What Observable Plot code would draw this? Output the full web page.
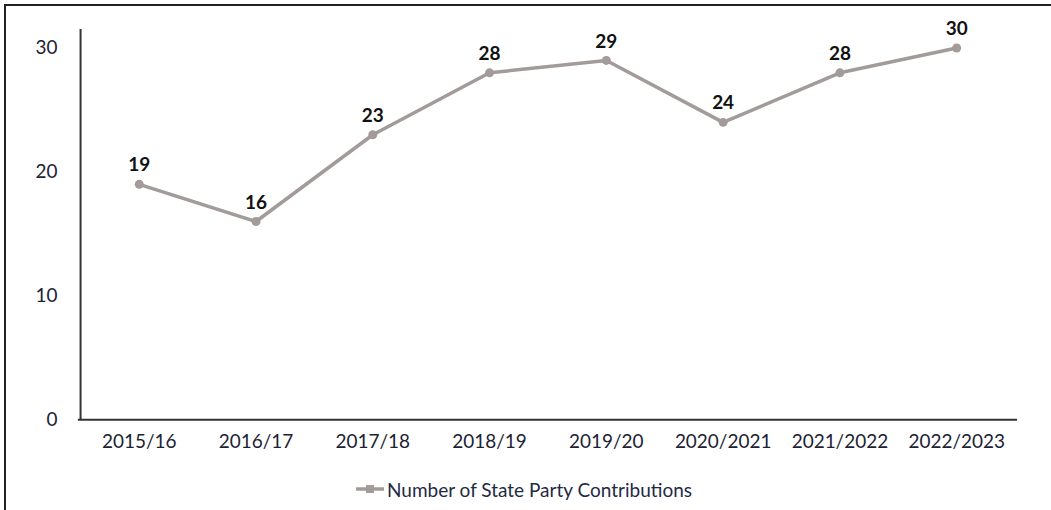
<!DOCTYPE html>
<html>
<head>
<meta charset="utf-8">
<script src="https://cdn.jsdelivr.net/npm/d3@7"></script>
<script src="https://cdn.jsdelivr.net/npm/@observablehq/plot@0.6"></script>
<style>
  html, body { margin: 0; padding: 0; background: #fff; }
  #wrap { position: relative; box-sizing: border-box; border-left: 2px solid #222; border-top: 2px solid #222; margin-left: 4px; margin-top: 4px; width: 1047px; height: 506px; overflow: hidden; }
  #legend { font-family: Lato, sans-serif; font-size: 19px; color: #1f2a44; display: flex; align-items: center; justify-content: center; height: 44px; margin-top: 6px; padding-right: 10px; }
  #legend svg { margin-right: 2px; }
</style>
</head>
<body>
<div id="wrap"></div>
<script>
const years = ["2015/16", "2016/17", "2017/18", "2018/19", "2019/20", "2020/2021", "2021/2022", "2022/2023"];
const contributions = [19, 16, 23, 28, 29, 24, 28, 30];
const yTicks = [0, 10, 20, 30];
const seriesName = "Number of State Party Contributions";

const data = years.map((y, i) => ({year: y, value: contributions[i]}));
const lineColor = "#a39a9a";

const chart = Plot.plot({
  width: 1047,
  height: 456,
  marginLeft: 72,
  marginRight: 34,
  marginTop: 23,
  marginBottom: 42,
  style: {fontFamily: "Lato, sans-serif", fontSize: "19px", color: "#1c2233", background: "#fff"},
  x: {type: "point", domain: years, padding: 0.5, label: null, tickSize: 0, tickPadding: 15},
  y: {domain: [0, 31.5], ticks: yTicks, label: null, tickSize: 0, tickPadding: 21},
  marks: [
    Plot.line(data, {x: "year", y: "value", stroke: lineColor, strokeWidth: 3.5}),
    Plot.dot(data, {x: "year", y: "value", fill: lineColor, r: 4.5, symbol: "circle"}),
    Plot.text(data, {x: "year", y: "value", text: d => String(d.value), dy: -19, fontWeight: "bold", fontSize: 19, fill: "#111"}),
    Plot.ruleY([0], {stroke: "#333", strokeWidth: 2}),
    Plot.ruleX([years[0]], {dx: -58.8, stroke: "#333", strokeWidth: 2, y1: 0, y2: 31.5})
  ]
});

const wrap = document.getElementById("wrap");
wrap.appendChild(chart);
const legend = document.createElement("div");
legend.id = "legend";
legend.innerHTML = `<svg width="30" height="12"><line x1="1" y1="6" x2="29" y2="6" stroke="${lineColor}" stroke-width="3.5"/><rect x="11" y="2" width="8" height="8" fill="${lineColor}"/></svg><span>${seriesName}</span>`;
wrap.appendChild(legend);
</script>
</body>
</html>
